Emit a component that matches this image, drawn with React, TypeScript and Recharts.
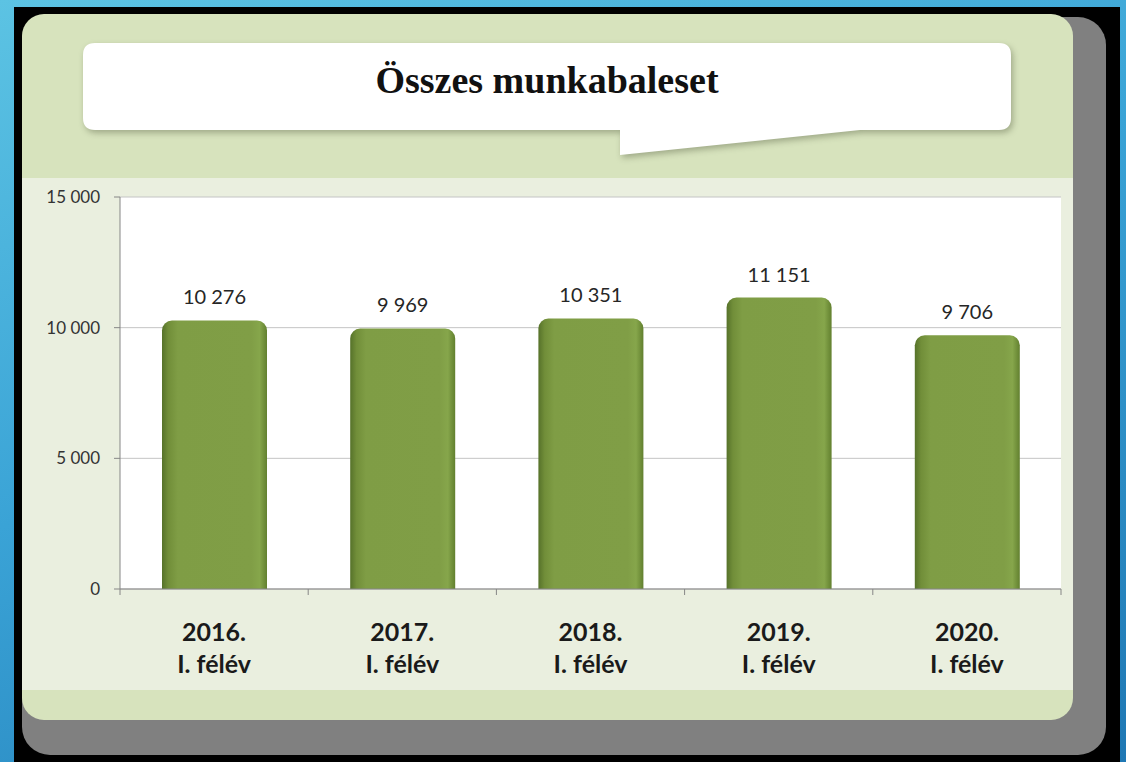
import React from 'react';
import { BarChart, Bar, XAxis, YAxis, CartesianGrid, LabelList } from 'recharts';

const periods = ['2016.', '2017.', '2018.', '2019.', '2020.'];
const halfYear = 'I. félév';
const accidents = [10276, 9969, 10351, 11151, 9706];
const yTicks = [0, 5000, 10000, 15000];

const data = periods.map((p, i) => ({ period: p, value: accidents[i] }));

const fmt = (v: number) => String(v).replace(/\B(?=(\d{3})+(?!\d))/g, ' ');

const CHART_W = 1051;
const CHART_H = 512;
const MARGIN = { top: 19, right: 12, bottom: 0, left: 0 };
const Y_W = 98;
const BAND = (CHART_W - MARGIN.left - MARGIN.right - Y_W) / periods.length;

/**
 * X tick: two bold lines plus a tick mark on the category boundary
 */
const PeriodTick = (props: any) => {
  const { x, y, payload, index } = props;
  const last = index === periods.length - 1;
  return (
    <g>
      <line x1={x - BAND / 2} x2={x - BAND / 2} y1={y - 8} y2={y - 2} stroke="#868686" />
      {last && <line x1={x + BAND / 2} x2={x + BAND / 2} y1={y - 8} y2={y - 2} stroke="#868686" />}
      <text x={x} y={y + 44} textAnchor="middle" fontSize={25} fontWeight={700} fill="#1a1a1a">
        {payload.value}
      </text>
      <text x={x} y={y + 76} textAnchor="middle" fontSize={25} fontWeight={700} fill="#1a1a1a">
        {halfYear}
      </text>
    </g>
  );
};

export default function App() {
  return (
    <div
      style={{
        position: 'absolute',
        left: 0,
        top: 0,
        width: 1126,
        height: 762,
        overflow: 'hidden',
        background: 'linear-gradient(160deg, #5cc3e3 0%, #3aa3d6 45%, #1f78b4 100%)',
        fontFamily: 'Lato, "Open Sans", sans-serif',
      }}
    >
      {/* dark frame */}
      <div style={{ position: 'absolute', left: 14, top: 7, width: 1106, height: 755, background: '#000' }} />
      {/* grey shadow */}
      <div
        style={{
          position: 'absolute',
          left: 22,
          top: 17,
          width: 1084,
          height: 738,
          background: '#808080',
          borderRadius: 28,
        }}
      />
      {/* green panel */}
      <div
        style={{
          position: 'absolute',
          left: 22,
          top: 14,
          width: 1051,
          height: 706,
          background: '#d7e3bd',
          borderRadius: 22,
          overflow: 'hidden',
        }}
      >
        <div style={{ position: 'absolute', left: 0, top: 164, width: 1051, height: 512, background: '#eaefdf' }} />
      </div>
      {/* title bubble */}
      <svg
        width={1126}
        height={200}
        style={{ position: 'absolute', left: 0, top: 0, filter: 'drop-shadow(2px 3px 3px rgba(90,100,70,0.45))' }}
      >
        <path
          d="M95 43 H999 Q1011 43 1011 55 V118 Q1011 130 999 130 H860 L620 155 V130 H95 Q83 130 83 118 V55 Q83 43 95 43 Z"
          fill="#ffffff"
        />
      </svg>
      <svg width={1126} height={200} style={{ position: 'absolute', left: 0, top: 0 }}>
        <text
          x={547}
          y={93}
          textAnchor="middle"
          fontFamily='"Liberation Serif", "DejaVu Serif", serif'
          fontWeight={700}
          fontSize={38}
          fill="#111"
        >
          Összes munkabaleset
        </text>
      </svg>
      <div style={{ position: 'absolute', left: 22, top: 178 }}>
        <BarChart width={CHART_W} height={CHART_H} data={data} margin={MARGIN} barSize={105}>
          <defs>
            <linearGradient id="barGrad" x1="0" y1="0" x2="1" y2="0">
              <stop offset="0%" stopColor="#56722a" />
              <stop offset="6%" stopColor="#718e39" />
              <stop offset="15%" stopColor="#7f9d45" />
              <stop offset="85%" stopColor="#809e46" />
              <stop offset="93%" stopColor="#86a64b" />
              <stop offset="100%" stopColor="#62802f" />
            </linearGradient>
          </defs>
          <CartesianGrid vertical={false} stroke="#c4c4c4" fill="#ffffff" />
          <XAxis
            dataKey="period"
            height={101}
            tick={<PeriodTick />}
            tickLine={false}
            axisLine={{ stroke: '#868686' }}
            interval={0}
          />
          <YAxis
            width={Y_W}
            domain={[0, 15000]}
            ticks={yTicks}
            tickFormatter={fmt}
            tickSize={6}
            tickMargin={14}
            axisLine={{ stroke: '#868686' }}
            tickLine={{ stroke: '#868686' }}
            tick={{ fontSize: 17, fill: '#333' }}
          />
          <Bar dataKey="value" fill="url(#barGrad)" radius={[10, 10, 0, 0]} isAnimationActive={false}>
            <LabelList
              dataKey="value"
              position="top"
              offset={16}
              formatter={(v: any) => fmt(Number(v))}
              style={{ fontSize: 20, fill: '#262626' }}
            />
          </Bar>
        </BarChart>
      </div>
    </div>
  );
}
